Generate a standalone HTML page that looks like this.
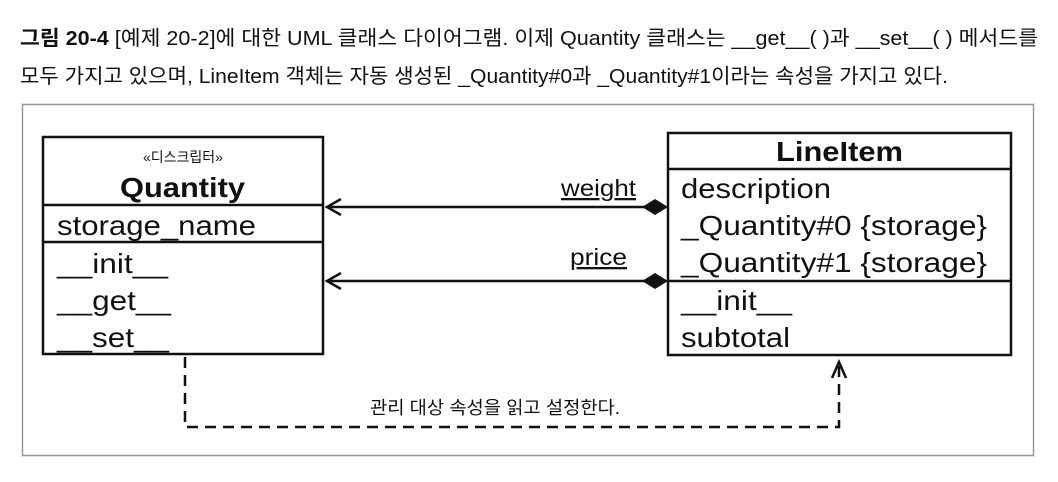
<!DOCTYPE html>
<html><head><meta charset="utf-8"><style>
html,body{margin:0;padding:0;background:#fff;}
svg{display:block;}
text{font-family:"Liberation Sans","Noto Sans CJK KR",sans-serif;fill:#111;}
</style></head><body>
<svg width="1058" height="482" viewBox="0 0 1058 482" xmlns="http://www.w3.org/2000/svg">
<text x="20" y="45" font-size="20.5" textLength="1018" lengthAdjust="spacingAndGlyphs"><tspan font-weight="bold">그림 20-4</tspan> [예제 20-2]에 대한 UML 클래스 다이어그램. 이제 Quantity 클래스는 __get__( )과 __set__( ) 메서드를</text>
<text x="20" y="83" font-size="20.5" textLength="928" lengthAdjust="spacingAndGlyphs">모두 가지고 있으며, LineItem 객체는 자동 생성된 _Quantity#0과 _Quantity#1이라는 속성을 가지고 있다.</text>
<rect x="22.5" y="104.5" width="1011" height="351" fill="none" stroke="#999" stroke-width="1.5"/>
<!-- Quantity -->
<rect x="43" y="137" width="280" height="217" fill="none" stroke="#111" stroke-width="2.5"/>
<line x1="43" y1="205" x2="323" y2="205" stroke="#111" stroke-width="2.5"/>
<line x1="43" y1="242" x2="323" y2="242" stroke="#111" stroke-width="2.5"/>
<text x="183" y="162" font-size="14" text-anchor="middle">«디스크립터»</text>
<text x="120" y="197" font-size="28" font-weight="bold" textLength="125" lengthAdjust="spacingAndGlyphs">Quantity</text>
<text x="57" y="235" font-size="28" textLength="199" lengthAdjust="spacingAndGlyphs">storage_name</text>
<text x="57" y="273" font-size="28" textLength="111" lengthAdjust="spacingAndGlyphs">__init__</text>
<text x="57" y="310" font-size="28" textLength="114" lengthAdjust="spacingAndGlyphs">__get__</text>
<text x="57" y="347" font-size="28" textLength="112" lengthAdjust="spacingAndGlyphs">__set__</text>
<!-- LineItem -->
<rect x="668" y="133" width="343" height="222" fill="none" stroke="#111" stroke-width="2.5"/>
<line x1="668" y1="169" x2="1011" y2="169" stroke="#111" stroke-width="2.5"/>
<line x1="668" y1="281" x2="1011" y2="281" stroke="#111" stroke-width="2.5"/>
<text x="776" y="161" font-size="28" font-weight="bold" textLength="127" lengthAdjust="spacingAndGlyphs">LineItem</text>
<text x="681" y="198" font-size="28" textLength="150" lengthAdjust="spacingAndGlyphs">description</text>
<text x="681" y="235" font-size="28" textLength="306" lengthAdjust="spacingAndGlyphs">_Quantity#0 {storage}</text>
<text x="681" y="272" font-size="28" textLength="306" lengthAdjust="spacingAndGlyphs">_Quantity#1 {storage}</text>
<text x="681" y="310" font-size="28" textLength="111" lengthAdjust="spacingAndGlyphs">__init__</text>
<text x="681" y="347" font-size="28" textLength="109" lengthAdjust="spacingAndGlyphs">subtotal</text>
<!-- associations -->
<line x1="327" y1="207" x2="645" y2="207" stroke="#111" stroke-width="2.5"/>
<polyline points="341,199 327,207 341,215" fill="none" stroke="#111" stroke-width="2.5"/>
<polygon points="642,207 655,199 668,207 655,215" fill="#111"/>
<text x="561" y="196" font-size="23" text-decoration="underline" textLength="75" lengthAdjust="spacingAndGlyphs">weight</text>
<line x1="327" y1="281" x2="645" y2="281" stroke="#111" stroke-width="2.5"/>
<polyline points="341,273 327,281 341,289" fill="none" stroke="#111" stroke-width="2.5"/>
<polygon points="642,281 655,273 668,281 655,289" fill="#111"/>
<text x="570" y="265" font-size="23" text-decoration="underline" textLength="57" lengthAdjust="spacingAndGlyphs">price</text>
<!-- dependency -->
<polyline points="185,357 185,427 839,427 839,364" fill="none" stroke="#111" stroke-width="2.5" stroke-dasharray="11,7"/>
<polyline points="832,378 839,362 846,378" fill="none" stroke="#111" stroke-width="2.5"/>
<text x="370" y="414" font-size="18" textLength="250" lengthAdjust="spacingAndGlyphs">관리 대상 속성을 읽고 설정한다.</text>
</svg>
</body></html>
